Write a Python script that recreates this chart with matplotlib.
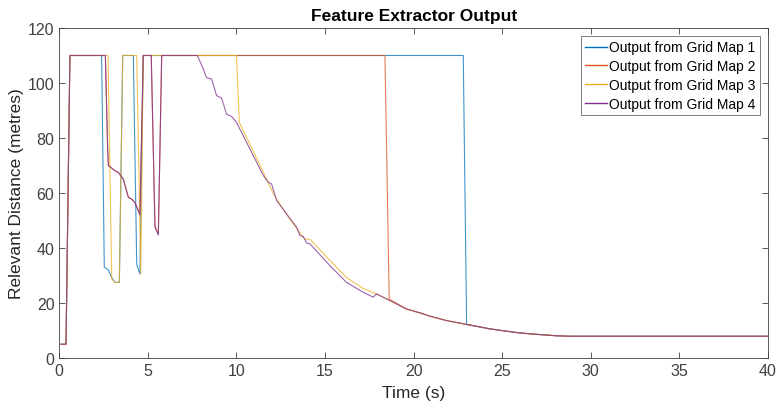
import matplotlib
matplotlib.use("Agg")
import matplotlib.pyplot as plt

plt.rcParams['font.family'] = ['Liberation Sans', 'DejaVu Sans']

# shared tail once all four maps settle onto the same curve
tail_t = [19.6, 20.36, 20.92, 21.86, 22.99, 24.3, 25.06, 26.0, 26.94, 28.0, 28.8, 40.0]
tail_v = [17.8, 16.4, 15.2, 13.6, 12.2, 10.6, 9.9, 9.1, 8.6, 8.1, 7.9, 7.9]

# Output from Grid Map 1
t1 = [0.1, 0.38, 0.6, 2.39, 2.54, 2.77, 2.96, 3.14, 3.39, 3.58, 4.18, 4.37,
      4.55, 4.74, 22.8, 22.99, 24.3] + tail_t[6:]
v1 = [5, 5, 110, 110, 33, 32, 29.2, 27.5, 27.5, 110, 110, 34,
      30.5, 110, 110, 12.2, 10.6] + tail_v[6:]

# Output from Grid Map 2
t2 = [0.1, 0.38, 0.6, 2.6, 2.73, 2.77, 3.14, 3.33, 3.61, 3.9, 4.08, 4.27,
      4.46, 4.55, 4.74, 5.19, 5.4, 5.59, 5.78, 18.38, 18.62] + tail_t
v2 = [5, 5, 110, 110, 76, 70, 68.1, 67.5, 65.1, 58.4, 57.8, 56.5,
      53.6, 52, 110, 110, 48.1, 45.1, 110, 110, 21.4] + tail_v

# Output from Grid Map 3
t3 = [0.1, 0.38, 0.6, 2.75, 2.96, 3.14, 3.39, 3.58, 4.37, 4.6, 4.74, 10.0,
      10.16, 11.52, 12.09, 13.0, 13.86, 14.15, 15.27, 16.2, 17.15, 17.9,
      18.66] + tail_t
v3 = [5, 5, 110, 110, 28.7, 27.5, 27.5, 110, 110, 30.5, 110, 110,
      85.7, 67.5, 59.6, 50.5, 43.2, 43.2, 35.5, 29.3, 25.3, 23.3,
      20.9] + tail_v

# Output from Grid Map 4
t4 = [0.1, 0.38, 0.6, 2.6, 2.73, 2.77, 3.14, 3.33, 3.61, 3.9, 4.08, 4.27,
      4.46, 4.55, 4.74, 5.19, 5.4, 5.59, 5.78, 7.79, 8.13, 8.3, 8.6, 8.88,
      9.16, 9.44, 9.73, 10.0, 11.52, 11.8, 11.98, 12.27, 13.4, 13.58, 13.77,
      13.96, 14.15, 15.27, 16.21, 17.15, 17.72, 17.9, 18.09, 18.66] + tail_t
v4 = [5, 5, 110, 110, 76, 70, 68.1, 67.5, 65.1, 58.4, 57.8, 56.5,
      53.6, 52, 110, 110, 47.5, 44.7, 110, 110, 105.1, 102, 101.4, 95.4,
      94.5, 88.7, 87.8, 85.7, 66.3, 63.9, 63.3, 57.2, 47.5, 44.5, 44.2,
      41.8, 41.5, 33.6, 27.5, 23.9, 22.1, 23.3, 22.7, 20.9] + tail_v

labels = ['Output from Grid Map 1', 'Output from Grid Map 2',
          'Output from Grid Map 3', 'Output from Grid Map 4']
colors = ['#0072BD', '#D95319', '#EDB120', '#7E2F8E']

fig = plt.figure(figsize=(7.76, 4.06), dpi=100)
ax = fig.add_axes([0.0764, 0.1158, 0.9133, 0.8128])

for t, v, lab, c in zip([t1, t2, t3, t4], [v1, v2, v3, v4], labels, colors):
    ax.plot(t, v, color=c, lw=0.8, label=lab, alpha=0.75)

ax.set_xlim(0, 40)
ax.set_ylim(0, 120)
ax.set_xticks(range(0, 41, 5))
ax.set_yticks(range(0, 121, 20))
ax.tick_params(direction='in', top=True, right=True, length=4, width=0.6,
               labelsize=11.5, colors='#404040')
for s in ax.spines.values():
    s.set_color('#404040')
    s.set_linewidth(0.6)

ax.set_xlabel('Time (s)', fontsize=12.5, color='#262626', labelpad=5)
ax.set_ylabel('Relevant Distance (metres)', fontsize=12.5, color='#262626', labelpad=3)
ax.set_title('Feature Extractor Output', fontsize=12.5, fontweight='bold', pad=6)

leg = ax.legend(loc='upper right', fontsize=10, frameon=True, fancybox=False,
                edgecolor='#404040', handlelength=1.6, handletextpad=0.15,
                labelspacing=0.35, borderpad=0.3, borderaxespad=0.6)
leg.get_frame().set_linewidth(0.6)
for h in leg.get_lines():
    h.set_alpha(1.0)
    h.set_linewidth(1.0)

fig.savefig('out.png', dpi=100)
